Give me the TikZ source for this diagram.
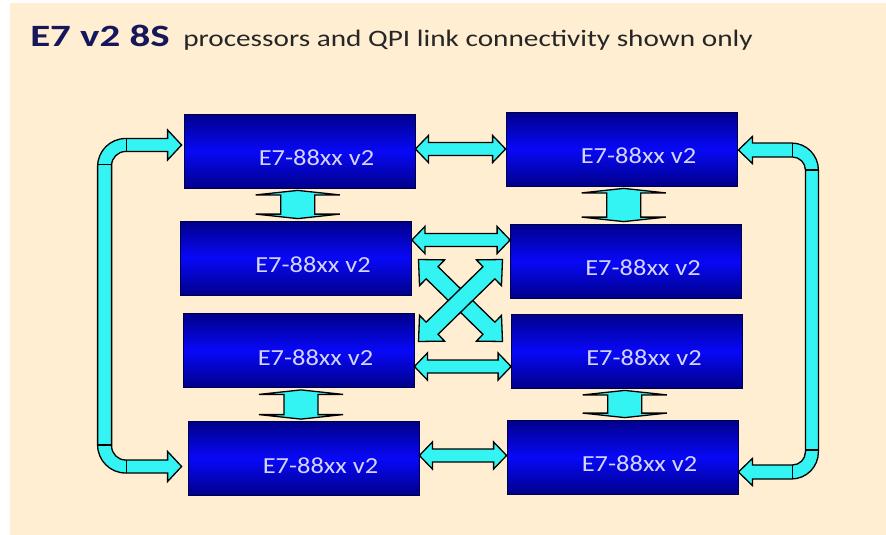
\documentclass[tikz,border=0pt]{standalone}
\usepackage{fontspec}
\setmainfont{Carlito}
\usetikzlibrary{calc}
\definecolor{bgpeach}{HTML}{FFEED2}
\definecolor{qpicyan}{HTML}{33F3F3}
\definecolor{cpudark}{HTML}{00008A}
\definecolor{cpumid}{HTML}{0808F8}
\definecolor{cpuline}{HTML}{00004A}
\definecolor{titleblue}{HTML}{16165A}
\definecolor{cputxt}{HTML}{D4D4FF}
\newcommand\qpilink[5]{% from, to, head length, half shaft, half head
  \draw[qpi] (#1) -- ($(#1)!#3!(#2)!#5!90:(#2)$) -- ($(#1)!#3!(#2)!#4!90:(#2)$)
    -- ($(#2)!#3!(#1)!#4!-90:(#1)$) -- ($(#2)!#3!(#1)!#5!-90:(#1)$) -- (#2)
    -- ($(#2)!#3!(#1)!#5!90:(#1)$) -- ($(#2)!#3!(#1)!#4!90:(#1)$)
    -- ($(#1)!#3!(#2)!#4!-90:(#2)$) -- ($(#1)!#3!(#2)!#5!-90:(#2)$) -- cycle;}
\begin{document}
\begin{tikzpicture}[x=1pt, y=-1pt,
  cpu/.style={rectangle, draw=cpuline, line width=0.8pt, minimum width=231pt, minimum height=74pt,
    top color=cpudark, bottom color=cpudark, middle color=cpumid,
    label={[cputext]center:E7-88xx v2}},
  cputext/.style={inner sep=0, text=cputxt, xshift=17pt, yshift=-7pt, xscale=1.15,
    font=\fontsize{23}{23}\selectfont},
  qpi/.style={draw=black, line width=1.3pt, fill=qpicyan},
  qpisep/.style={draw=black, line width=1.2pt}]
  \useasboundingbox (0,0) rectangle (886,535);
  \fill[bgpeach] (10,3) rectangle (886,535);
  \node[anchor=base west, inner sep=0, text=titleblue, xscale=1.32,
    font=\bfseries\fontsize{31}{31}\selectfont] (head) at (30,47) {E7 v2 8S};
  \node[anchor=base west, inner sep=0, text=black!85, xscale=1.24,
    font=\fontsize{23.6}{24}\selectfont] (sub) at (183,47) {processors and QPI link connectivity shown only};

  \foreach \n/\x/\y in {L1/299.5/151, L2/296/258, L3/298.5/350.5, L4/303.5/458.5,
                         R1/621.5/149, R2/626/261, R3/627/351, R4/622.5/457}
    \node[cpu] (\n) at (\x,\y) {};

  \coordinate (h1a) at (L1.east |- R1.west);
  \coordinate (h1b) at (R1.west);
  \coordinate (h2a) at ([yshift=18pt]L2.east);
  \coordinate (h2b) at (R2.west |- h2a);
  \coordinate (h3a) at ([yshift=-16pt]L3.east);
  \coordinate (h3b) at (R3.west |- h3a);
  \coordinate (h4a) at ([yshift=3pt]L4.east);
  \coordinate (h4b) at (R4.west |- h4a);
  \foreach \a/\b in {h1a/h1b, h2a/h2b, h3a/h3b, h4a/h4b}
    \qpilink{\a}{\b}{13pt}{6.5pt}{13.5pt};

  \foreach \t/\b [count=\i] in {L1/L2, L3/L4, R1/R2, R3/R4} {
    \coordinate (v\i) at ($(\t.south)!0.5!(\b.north)$);
    \coordinate (vt\i) at ([yshift=-2pt]v\i |- \t.south);
    \coordinate (vb\i) at ([yshift=2pt]v\i |- \b.north);
    \qpilink{vt\i}{vb\i}{4.5pt}{17pt}{42pt};
  }

  \coordinate (xc) at ($(L2.south east)!0.5!(R3.north west)$);
  \coordinate (x1) at ($(xc)+(-43,-45)$);
  \coordinate (x2) at ($(xc)+(41,37)$);
  \coordinate (x3) at ($(xc)+(41,-45)$);
  \coordinate (x4) at ($(xc)+(-43,37)$);
  \qpilink{x1}{x2}{19pt}{8.5pt}{18pt};
  \qpilink{x4}{x3}{19pt}{8.5pt}{18pt};

  \coordinate (lt) at ([xshift=-2pt,yshift=6pt]L1.west);
  \coordinate (lb) at ([xshift=-6pt,yshift=-8pt]L4.west);
  \draw[qpi] (lt) -- +(-14,-15) -- +(-14,-6.5) [rounded corners=28pt] -- +(-84,-6.5)
    -- ($(lb)+(-84,6.5)$) [sharp corners] -- ($(lb)+(-14,6.5)$) -- ($(lb)+(-14,15)$)
    -- (lb) -- +(-14,-15) -- +(-14,-6.5) [rounded corners=14pt] -- +(-70,-6.5)
    -- ($(lt)+(-70,6.5)$) [sharp corners] -- ($(lt)+(-14,6.5)$) -- ($(lt)+(-14,15)$) -- cycle;
  \draw[qpisep] ($(lt)+(-55,-6.5)$) -- ($(lt)+(-55,6.5)$)
    ($(lt)+(-84,19.5)$) -- ($(lt)+(-70,19.5)$)
    ($(lb)+(-55,-6.5)$) -- ($(lb)+(-55,6.5)$)
    ($(lb)+(-84,-21.5)$) -- ($(lb)+(-70,-21.5)$);

  \coordinate (rt) at ([xshift=1pt,yshift=-1pt]R1.east);
  \coordinate (rb) at ([yshift=-15pt]R4.east);
  \draw[qpi] (rt) -- +(14,-13.5) -- +(14,-7) [rounded corners=27pt] -- +(80,-7)
    -- ($(rb)+(80,7)$) [sharp corners] -- ($(rb)+(14,7)$) -- ($(rb)+(14,13.5)$)
    -- (rb) -- +(14,-13.5) -- +(14,-7) [rounded corners=13pt] -- +(67,-7)
    -- ($(rt)+(67,7)$) [sharp corners] -- ($(rt)+(14,7)$) -- ($(rt)+(14,13.5)$) -- cycle;
  \draw[qpisep] ($(rt)+(54,-7)$) -- ($(rt)+(54,7)$)
    ($(rt)+(67,20)$) -- ($(rt)+(80,20)$)
    ($(rb)+(54,-7)$) -- ($(rb)+(54,7)$)
    ($(rb)+(67,-22)$) -- ($(rb)+(80,-22)$);
\end{tikzpicture}
\end{document}
